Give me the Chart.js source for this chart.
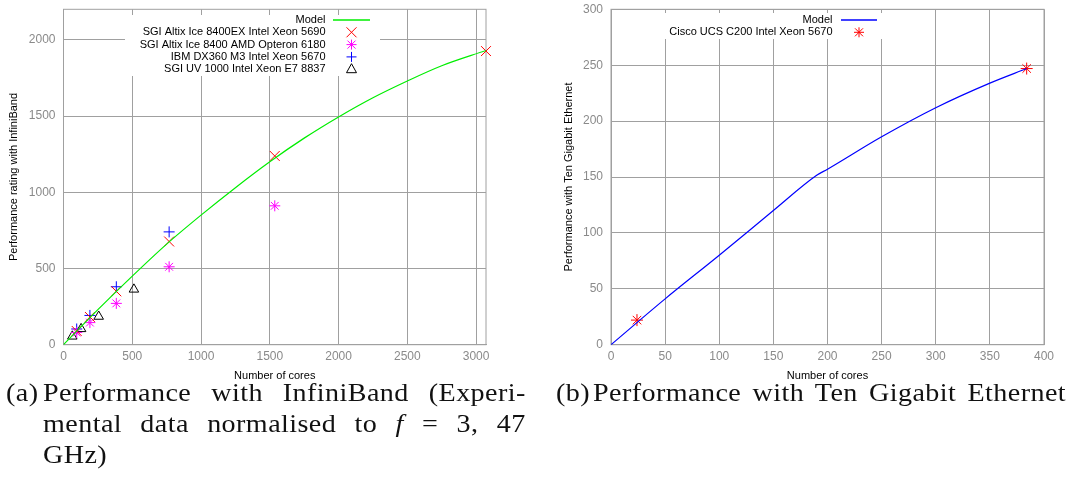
<!DOCTYPE html>
<html lang="en">
<head>
<meta charset="UTF-8">
<title>Performance with InfiniBand / Ten Gigabit Ethernet</title>
<script src="https://cdn.jsdelivr.net/npm/chart.js@4"></script>
<style>
  body { margin: 0; width: 1075px; height: 493px; background: #fff; position: relative; overflow: hidden; }
  canvas { position: absolute; top: 0; }
  #chart-a { left: 0; }
  #chart-b { left: 540px; }
  .caption { position: absolute; font-family: "Liberation Serif", "Times New Roman", serif; font-size: 26px; line-height: 31px; color: #111; white-space: nowrap; letter-spacing: 0.4px; transform: scaleX(1.08); transform-origin: 0 0; }
  .caption .tag { position: absolute; left: 0; top: 0; }
  .caption .line { position: absolute; left: 34.3px; text-align: justify; text-align-last: justify; }
  .caption .last { text-align-last: left; }
</style>
</head>
<body>
<canvas id="chart-a" width="540" height="390"></canvas>
<canvas id="chart-b" width="535" height="390"></canvas>

<div class="caption" style="left:6px; top:377px;">
  <span class="tag">(a)</span>
  <div class="line" style="top:0; width:447px;">Performance with InfiniBand (Experi-</div>
  <div class="line" style="top:31px; width:447px;">mental data normalised to <i>f</i> = 3, 47</div>
  <div class="line last" style="top:62px; width:447px;">GHz)</div>
</div>
<div class="caption" style="left:556px; top:377px;">
  <span class="tag">(b)</span>
  <div class="line" style="top:0; width:438px;">Performance with Ten Gigabit Ethernet</div>
</div>

<script>
// ---- data: (a) InfiniBand
const modelCoresA = [0, 250, 500, 750, 1000, 1250, 1500, 1750, 2000, 2250, 2500, 2750, 3072];
const modelPerfA  = [0, 230, 450, 660, 850, 1030, 1200, 1355, 1494, 1620, 1730, 1830, 1930];
const altixExCores = [96, 192, 384, 768, 1536, 3072];
const altixExPerf  = [90, 182, 350, 677, 1238, 1926];
const altixAmdCores = [96, 192, 384, 768, 1536];
const altixAmdPerf  = [80, 145, 271, 511, 911];
const ibmCores = [96, 192, 384, 768];
const ibmPerf  = [103, 192, 380, 740];
const uvCores = [64, 128, 256, 512];
const uvPerf  = [55, 104, 185, 363];
const xTicksA = [0, 500, 1000, 1500, 2000, 2500, 3000];
const yTicksA = [0, 500, 1000, 1500, 2000];

// ---- data: (b) Ten Gigabit Ethernet
const modelCoresB = [0, 50, 100, 150, 190, 200, 250, 300, 350, 384];
const modelPerfB  = [0, 41, 80, 120, 151.5, 157, 186, 212, 234, 247];
const ciscoCores = [24, 384];
const ciscoPerf  = [22, 247];
const xTicksB = [0, 50, 100, 150, 200, 250, 300, 350, 400];
const yTicksB = [0, 50, 100, 150, 200, 250, 300];

const GRID = '#a0a0a0';
const TICK = '#8a8a8a';
const SANS = '"Liberation Sans", Arial, sans-serif';

const pts = (xs, ys) => xs.map((x, i) => ({x: x, y: ys[i]}));

function drawMarker(ctx, style, color, x, y) {
  ctx.strokeStyle = color;
  ctx.lineWidth = 1;
  ctx.beginPath();
  if (style === 'crossRot') {
    ctx.moveTo(x - 5, y - 5); ctx.lineTo(x + 5, y + 5);
    ctx.moveTo(x - 5, y + 5); ctx.lineTo(x + 5, y - 5);
  } else if (style === 'cross') {
    ctx.moveTo(x - 5, y); ctx.lineTo(x + 5, y);
    ctx.moveTo(x, y - 5); ctx.lineTo(x, y + 5);
  } else if (style === 'star') {
    ctx.moveTo(x - 5, y); ctx.lineTo(x + 5, y);
    ctx.moveTo(x, y - 5); ctx.lineTo(x, y + 5);
    ctx.moveTo(x - 4, y - 4); ctx.lineTo(x + 4, y + 4);
    ctx.moveTo(x - 4, y + 4); ctx.lineTo(x + 4, y - 4);
  } else if (style === 'triangle') {
    ctx.moveTo(x, y - 5.5); ctx.lineTo(x + 5, y + 3.5); ctx.lineTo(x - 5, y + 3.5); ctx.closePath();
  }
  ctx.stroke();
}

// gnuplot-like key (opaque box, text right aligned, sample on the right) + frame
const gnuKey = {
  id: 'gnuKey',
  beforeDatasetsDraw(chart) {
    const {ctx, chartArea: a} = chart;
    ctx.save();
    ctx.strokeStyle = GRID;
    ctx.lineWidth = 1;
    ctx.strokeRect(a.left, a.top, a.right - a.left, a.bottom - a.top);
    ctx.restore();
  },
  afterDatasetsDraw(chart, args, opts) {
    const {ctx} = chart;
    ctx.save();
    const b = opts.box;
    ctx.fillStyle = '#fff';
    ctx.fillRect(b[0], b[1], b[2] - b[0], b[3] - b[1]);
    ctx.font = '11px ' + SANS;
    ctx.textAlign = 'right';
    ctx.textBaseline = 'middle';
    chart.data.datasets.forEach((ds, i) => {
      const y = opts.y0 + i * opts.step;
      ctx.fillStyle = '#000';
      ctx.fillText(ds.label, opts.textRight, y);
      if (ds.showLine) {
        ctx.strokeStyle = ds.borderColor;
        ctx.lineWidth = 1.5;
        ctx.beginPath();
        ctx.moveTo(opts.sample[0], y);
        ctx.lineTo(opts.sample[1], y);
        ctx.stroke();
      } else {
        drawMarker(ctx, ds.pointStyle, ds.borderColor, (opts.sample[0] + opts.sample[1]) / 2, y);
      }
    });
    ctx.restore();
  }
};

function axes(xTicks, yTicks, xMax, yMax, yTitle, yLeftWidth, yTitlePad) {
  return {
    x: {
      type: 'linear', min: 0, max: xMax,
      afterBuildTicks: s => { s.ticks = xTicks.map(v => ({value: v})); },
      afterFit: s => { s.height = 45.3; s.paddingLeft = 0; s.paddingRight = 0; },
      grid: {color: GRID, drawTicks: false},
      border: {color: GRID},
      ticks: {font: {family: SANS, size: 12}, color: TICK, padding: 5, maxRotation: 0, callback: v => String(v)},
      title: {display: true, text: 'Number of cores', color: '#000', font: {family: SANS, size: 11}, padding: {top: 0, bottom: 7}}
    },
    y: {
      type: 'linear', min: 0, max: yMax,
      afterBuildTicks: s => { s.ticks = yTicks.map(v => ({value: v})); },
      afterFit: s => { s.width = yLeftWidth; s.paddingTop = 0; s.paddingBottom = 0; },
      grid: {color: GRID, drawTicks: false},
      border: {color: GRID},
      ticks: {font: {family: SANS, size: 12}, color: TICK, padding: 8, callback: v => String(v)},
      title: {display: true, text: yTitle, color: '#000', font: {family: SANS, size: 11}, padding: {top: yTitlePad, bottom: 0}}
    }
  };
}

new Chart(document.getElementById('chart-a'), {
  type: 'scatter',
  data: {
    datasets: [
      {label: 'Model', data: pts(modelCoresA, modelPerfA), showLine: true, borderColor: '#00ee00', borderWidth: 1.2, pointRadius: 0, cubicInterpolationMode: 'monotone'},
      {label: 'SGI Altix Ice 8400EX Intel Xeon 5690', data: pts(altixExCores, altixExPerf), pointStyle: 'crossRot', borderColor: '#ff0000', pointRadius: 7, borderWidth: 1, clip: false},
      {label: 'SGI Altix Ice 8400 AMD Opteron 6180', data: pts(altixAmdCores, altixAmdPerf), pointStyle: 'star', borderColor: '#ff00ff', pointRadius: 5.5, borderWidth: 1, clip: false},
      {label: 'IBM DX360 M3 Intel Xeon 5670', data: pts(ibmCores, ibmPerf), pointStyle: 'cross', borderColor: '#0000ff', pointRadius: 5.5, borderWidth: 1, clip: false},
      {label: 'SGI UV 1000 Intel Xeon E7 8837', data: pts(uvCores, uvPerf), pointStyle: 'triangle', borderColor: '#000000', backgroundColor: 'rgba(0,0,0,0)', pointRadius: 5.5, borderWidth: 1, clip: false}
    ]
  },
  options: {
    responsive: false, animation: false, devicePixelRatio: 1,
    layout: {padding: {left: 0, right: 54, top: 9.3, bottom: 0}},
    plugins: {legend: {display: false}, tooltip: {enabled: false},
      gnuKey: {box: [125, 15, 380, 76], textRight: 325.5, sample: [333, 370], y0: 20, step: 12.3}},
    scales: axes(xTicksA, yTicksA, 3072, 2200, 'Performance rating with InfiniBand', 63.5, 7.4)
  },
  plugins: [gnuKey]
});

new Chart(document.getElementById('chart-b'), {
  type: 'scatter',
  data: {
    datasets: [
      {label: 'Model', data: pts(modelCoresB, modelPerfB), showLine: true, borderColor: '#0000ff', borderWidth: 1.2, pointRadius: 0, cubicInterpolationMode: 'monotone'},
      {label: 'Cisco UCS C200 Intel Xeon 5670', data: pts(ciscoCores, ciscoPerf), pointStyle: 'star', borderColor: '#ff0000', pointRadius: 6, borderWidth: 1, clip: false}
    ]
  },
  options: {
    responsive: false, animation: false, devicePixelRatio: 1,
    layout: {padding: {left: 0, right: 31, top: 9.3, bottom: 0}},
    plugins: {legend: {display: false}, tooltip: {enabled: false},
      gnuKey: {box: [113, 13, 348, 39], textRight: 292.5, sample: [301, 337], y0: 20, step: 12.3}},
    scales: axes(xTicksB, yTicksB, 400, 300, 'Performance with Ten Gigabit Ethernet', 71, 22.7)
  },
  plugins: [gnuKey]
});
</script>
</body>
</html>
